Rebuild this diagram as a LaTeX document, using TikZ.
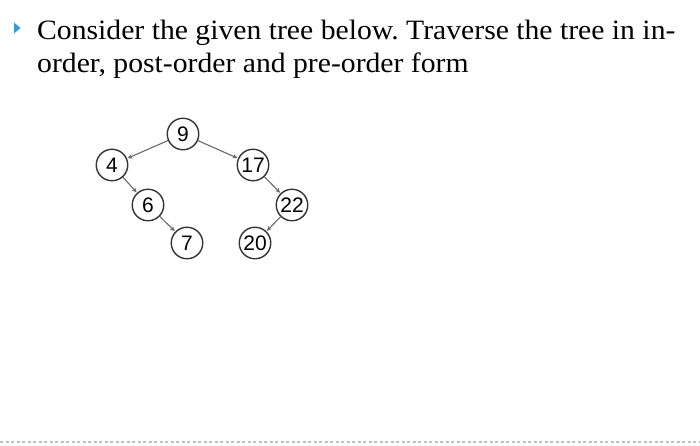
\documentclass[tikz,border=0pt]{standalone}
\usepackage{fontspec}
\setmainfont[FakeStretch=1.06]{Liberation Serif}
\newfontfamily\nodefont{Liberation Sans}
\usetikzlibrary{arrows.meta}
\definecolor{bulletblue}{HTML}{3A9AD4}
\definecolor{edgegray}{HTML}{6A6A6A}
\definecolor{dashgray}{HTML}{B8C4CC}
\frenchspacing
\tikzset{
  tnode/.style={circle, draw=black!80, line width=1.4pt, minimum size=31.5pt, inner sep=0pt, font=\nodefont\fontsize{21}{21}\selectfont},
  tedge/.style={draw=edgegray, line width=1.1pt, -{Stealth[length=5pt,width=4.5pt]}, shorten >=0.5pt},
  txt/.style={anchor=base west, inner sep=0pt, font=\fontsize{28}{33}\selectfont}
}
\begin{document}
\begin{tikzpicture}[x=1pt,y=-1pt]
\useasboundingbox (0,0) rectangle (700,445);
\fill[bulletblue] (14,22.5) -- (20.5,28) -- (14,33.5) -- cycle;
\node[txt] (l1) at (37,39) {Consider the given tree below. Traverse the tree in in-};
\node[txt] (l2) at (37,72) {order, post-order and pre-order form};
\node[tnode] (n9) at (183,134) {9};
\node[tnode] (n4) at (112,165) {4};
\node[tnode] (n17) at (253,165) {17};
\node[tnode] (n6) at (148,205) {6};
\node[tnode] (n22) at (292,205) {22};
\node[tnode] (n7) at (187,243) {7};
\node[tnode] (n20) at (255,243) {20};
\draw[tedge] (n9) -- (n4);
\draw[tedge] (n9) -- (n17);
\draw[tedge] (n4) -- (n6);
\draw[tedge] (n6) -- (n7);
\draw[tedge] (n17) -- (n22);
\draw[tedge] (n22) -- (n20);
\coordinate (dl) at (0,442);
\coordinate (dr) at (700,442);
\draw[dashgray, line width=1.5pt, dash pattern=on 3pt off 2.5pt] (dl) -- (dr);
\end{tikzpicture}
\end{document}
